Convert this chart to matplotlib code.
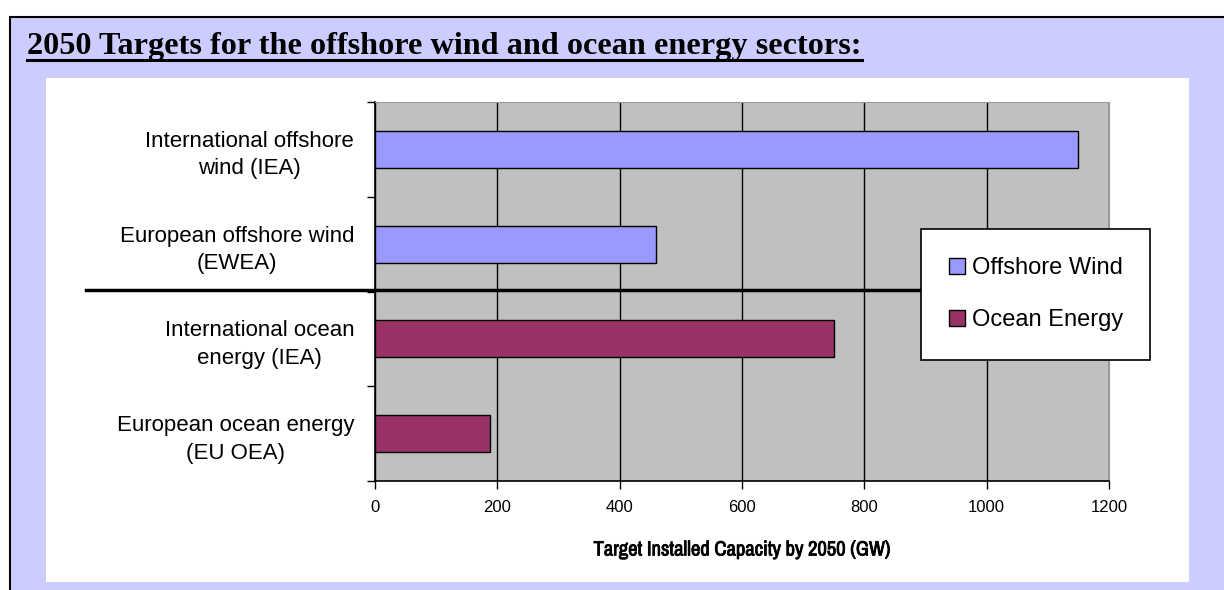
import matplotlib
matplotlib.use("Agg")
import matplotlib.pyplot as plt
import matplotlib.patheffects as pe
from matplotlib.patches import Rectangle, Patch
from matplotlib.lines import Line2D
import numpy as np

# data (top to bottom)
categories = ["International offshore\nwind (IEA)",
              "European offshore wind\n(EWEA)",
              "International ocean\nenergy (IEA)",
              "European ocean energy\n(EU OEA)"]
capacity = [1150, 460, 750, 188]
sector = ["Offshore Wind", "Offshore Wind", "Ocean Energy", "Ocean Energy"]
sector_colors = {"Offshore Wind": "#9999FF", "Ocean Energy": "#993366"}
xticks = [0, 200, 400, 600, 800, 1000, 1200]

W, H = 1224, 590
fig = plt.figure(figsize=(W / 100, H / 100), dpi=100)
fig.patch.set_facecolor("white")

def fx(px):
    return px / W

def fy(py):
    return 1 - py / H

# lavender frame with black border
fig.add_artist(Rectangle((fx(9.5), fy(H + 10)), fx(W + 20), (H + 10 - 16.5) / H,
                         transform=fig.transFigure, facecolor="#CCCCFF",
                         edgecolor="black", linewidth=1.5, zorder=-10))
# white panel
fig.add_artist(Rectangle((fx(46), fy(582)), fx(1189 - 46), (582 - 78) / H,
                         transform=fig.transFigure, facecolor="white",
                         edgecolor="none", zorder=-9))

title = fig.text(fx(27), fy(54), "2050 Targets for the offshore wind and ocean energy sectors:",
                 family="Liberation Serif", fontweight="bold", fontsize=23.2,
                 ha="left", va="baseline")

ax = fig.add_axes([fx(375), fy(481), fx(1109 - 375), (481 - 102) / H])
ax.set_facecolor("#C0C0C0")

y = np.arange(len(categories))
colors = [sector_colors[s] for s in sector]
ax.barh(y, capacity, height=0.39, color=colors, edgecolor="black", linewidth=1, zorder=3)

ax.set_xlim(0, 1200)
ax.set_ylim(len(categories) - 0.5, -0.5)
ax.set_xticks(xticks)
ax.set_xticklabels([str(v) for v in xticks], family="Liberation Sans", fontsize=12)
ax.set_yticks(y)
ax.set_yticklabels(categories, family="Liberation Sans", fontsize=16, linespacing=1.4)
for lab in ax.get_yticklabels():
    lab.set_multialignment("center")
ax.tick_params(axis="y", which="major", length=0, pad=15)
ax.set_yticks(np.arange(len(categories) + 1) - 0.5, minor=True)
ax.tick_params(axis="y", which="minor", length=6, width=1, color="black", direction="out")
ax.tick_params(axis="x", length=6, width=1, direction="out", pad=8)
ax.grid(axis="x", color="black", linewidth=1, zorder=1)
ax.set_axisbelow(True)

for side in ["top", "right"]:
    ax.spines[side].set_color("#9A9A9A")
for side in ["left", "bottom"]:
    ax.spines[side].set_color("black")
    ax.spines[side].set_linewidth(1.2)

# narrow bold look: narrow face thickened with a stroke
xl = ax.set_xlabel("Target Installed Capacity by 2050 (GW)",
                   family=["Archivo Narrow", "Liberation Sans"], fontweight="bold",
                   fontsize=14.8, labelpad=18)
xl.set_path_effects([pe.withStroke(linewidth=0.6, foreground="black")])

# separator between the two sectors
sep = Line2D([fx(86), fx(1109)], [fy(290), fy(290)], transform=fig.transFigure,
             color="black", linewidth=2.5, zorder=4, clip_on=False)
ax.add_artist(sep)

handles = [Patch(facecolor=sector_colors[k], edgecolor="black", label=k)
           for k in ["Offshore Wind", "Ocean Energy"]]
leg = ax.legend(handles=handles, loc="upper left",
                bbox_to_anchor=(fx(921), fy(361), fx(1150 - 921), (361 - 229) / H),
                bbox_transform=fig.transFigure, mode="expand", borderaxespad=0,
                prop={"family": "Liberation Sans", "size": 17},
                handlelength=0.68, handleheight=0.68, handletextpad=0.3,
                labelspacing=1.27, borderpad=1.2, fancybox=False, framealpha=1,
                edgecolor="black")
leg.get_frame().set_linewidth(1.2)
leg.set_zorder(6)

# underline the title
fig.canvas.draw()
bb = title.get_window_extent()
fig.add_artist(Line2D([bb.x0 / W, bb.x1 / W], [fy(59.5), fy(59.5)], transform=fig.transFigure,
                      color="black", linewidth=2.2))

fig.savefig("out.png", dpi=100, facecolor=fig.get_facecolor())
